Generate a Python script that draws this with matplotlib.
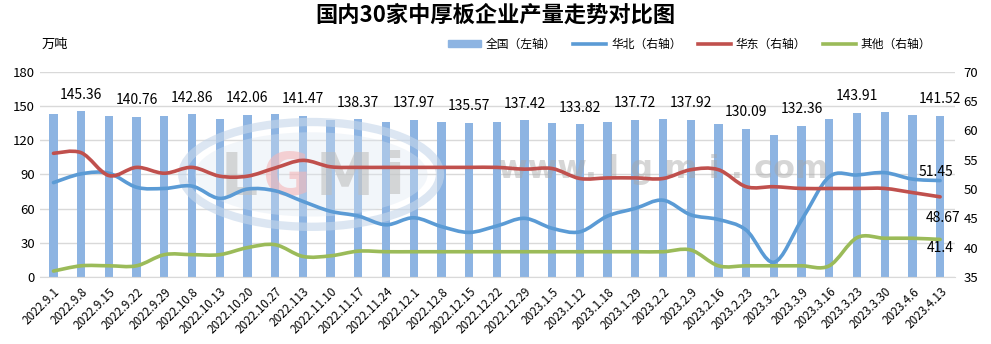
import numpy as np
import matplotlib.pyplot as plt
from matplotlib.path import Path
from matplotlib.patches import PathPatch, Ellipse

plt.rcParams['font.family'] = ['Noto Sans CJK SC', 'DejaVu Sans']

# weekly dates
dates = ['2022.9.1', '2022.9.8', '2022.9.15', '2022.9.22', '2022.9.29', '2022.10.8',
         '2022.10.13', '2022.10.20', '2022.10.27', '2022.113', '2022.11.10', '2022.11.17',
         '2022.11.24', '2022.12.1', '2022.12.8', '2022.12.15', '2022.12.22', '2022.12.29',
         '2023.1.5', '2023.1.12', '2023.1.18', '2023.1.29', '2023.2.2', '2023.2.9',
         '2023.2.16', '2023.2.23', '2023.3.2', '2023.3.9', '2023.3.16', '2023.3.23',
         '2023.3.30', '2023.4.6', '2023.4.13']

# national output (left axis, 10k tons)
national = [143.1, 145.36, 141.6, 140.76, 141.6, 142.86, 139.0, 142.06, 143.1, 141.47,
            138.0, 138.37, 136.0, 137.97, 136.0, 135.57, 136.0, 137.42, 135.2, 133.82,
            136.0, 137.72, 138.7, 137.92, 134.3, 130.09, 124.7, 132.36, 138.7, 143.91,
            144.5, 142.3, 141.52]
# bars that carry a value label
labelled = [1, 3, 5, 7, 9, 11, 13, 15, 17, 19, 21, 23, 25, 27, 29, 32]

# regional output (right axis)
north = [51.1, 52.6, 52.7, 50.3, 50.1, 50.5, 48.4, 50.0, 49.7, 47.9, 46.2, 45.4, 43.9,
         45.1, 43.6, 42.6, 43.7, 45.0, 43.3, 42.7, 45.4, 46.7, 48.1, 45.6, 44.8, 43.0,
         37.5, 44.7, 52.1, 52.4, 52.8, 51.7, 51.45]
east = [56.1, 56.2, 52.3, 53.7, 52.7, 53.7, 52.2, 52.2, 53.6, 54.9, 53.8, 53.7, 53.7,
        53.7, 53.7, 53.7, 53.7, 53.4, 53.5, 51.8, 51.9, 51.9, 51.8, 53.3, 53.3, 50.4,
        50.4, 50.1, 50.1, 50.1, 50.1, 49.4, 48.67]
other = [36.0, 36.9, 36.9, 36.9, 38.8, 38.8, 38.8, 40.0, 40.5, 38.5, 38.6, 39.4, 39.3,
         39.3, 39.3, 39.3, 39.3, 39.3, 39.3, 39.3, 39.3, 39.3, 39.3, 39.6, 36.9, 36.9,
         36.9, 36.9, 36.9, 41.7, 41.6, 41.6, 41.4]

c_bar = '#8DB4E2'
c_north = '#5B9BD5'
c_east = '#C0504D'
c_other = '#9BBB59'


def smooth_path(xs, ys):
    # cubic bezier through every point, like a spreadsheet "smoothed line"
    pts = np.column_stack([xs, ys]).astype(float)
    n = len(pts)
    verts = [pts[0]]
    codes = [Path.MOVETO]
    for i in range(n - 1):
        p0 = pts[max(i - 1, 0)]
        p1 = pts[i]
        p2 = pts[i + 1]
        p3 = pts[min(i + 2, n - 1)]
        verts += [p1 + (p2 - p0) / 6, p2 - (p3 - p1) / 6, p2]
        codes += [Path.CURVE4] * 3
    return Path(verts, codes)


x = np.arange(len(dates))
fig = plt.figure(figsize=(9.91, 3.44), dpi=100)
ax = fig.add_axes([0.040, 0.195, 0.924, 0.596])
ax2 = ax.twinx()

ax.bar(x, national, width=0.3, color=c_bar, zorder=2)
ax.set_ylim(0, 180)
ax.set_yticks(range(0, 181, 30))
ax.set_xlim(-0.5, len(dates) - 0.5 + 0.05)
ax.grid(axis='y', color='#D9D9D9', linewidth=1, zorder=0)
ax.set_axisbelow(True)
for s in ['top', 'left', 'right']:
    ax.spines[s].set_visible(False)
ax.spines['bottom'].set_color('#D9D9D9')
ax.tick_params(axis='both', length=0, labelsize=9.5)
ax.set_xticks(x)
ax.set_xticklabels(dates, rotation=45, ha='right', rotation_mode='anchor', fontsize=8.5)
ax.tick_params(axis='x', pad=6)

for i in labelled:
    ax.annotate(f'{national[i]:.2f}', (x[i], national[i]), xytext=(0, 12),
                textcoords='offset points', ha='center', va='center', fontsize=10)

# faint watermark: logo ring with letters, and the site address
ax.add_patch(Ellipse((9.3, 90), 9.3, 92, fill=False, lw=6, ec='#C5D6EA', alpha=0.6, zorder=3))
ax.add_patch(Ellipse((9.3, 90), 8.4, 74, color='#DCE6F1', alpha=0.35, zorder=3, lw=0))
for dx, ch, col in [(-2.6, 'L', '#BFBFBF'), (-0.9, 'G', '#F4B6B8'), (1.2, 'M', '#BFBFBF'),
                    (3.0, 'i', '#BFBFBF')]:
    ax.text(9.3 + dx, 86, ch, ha='center', va='center', fontsize=42, fontweight='bold',
            color=col, alpha=0.6, zorder=3, family='DejaVu Sans')
ax.text(22.0, 94, 'www. l g m i . com', ha='center', va='center', fontsize=23,
        fontweight='bold', color='#A6A6A6', alpha=0.45, zorder=3, family='DejaVu Sans')

ax2.set_ylim(35, 70)
ax2.set_yticks(range(35, 71, 5))
for s in ax2.spines.values():
    s.set_visible(False)
ax2.tick_params(axis='y', length=0, labelsize=9.5, pad=6)

for vals, col in [(north, c_north), (east, c_east), (other, c_other)]:
    ax2.add_patch(PathPatch(smooth_path(x, vals), fill=False, ec=col, lw=2.6,
                            capstyle='round', joinstyle='round', zorder=4))

ax2.annotate(f'{north[-1]}', (x[-1], north[-1]), xytext=(-3, 6), textcoords='offset points',
             ha='center', va='center', fontsize=10)
ax2.annotate(f'{east[-1]}', (x[-1], east[-1]), xytext=(2, -15), textcoords='offset points',
             ha='center', va='center', fontsize=10)
ax2.annotate(f'{other[-1]}', (x[-1], other[-1]), xytext=(0, -6), textcoords='offset points',
             ha='center', va='center', fontsize=10)

# legend
h_bar = plt.Rectangle((0, 0), 1, 1, color=c_bar)
h_n = plt.Line2D([], [], color=c_north, lw=2.6)
h_e = plt.Line2D([], [], color=c_east, lw=2.6)
h_o = plt.Line2D([], [], color=c_other, lw=2.6)
fig.legend([h_bar, h_n, h_e, h_o], ['全国（左轴）', '华北（右轴）', '华东（右轴）', '其他（右轴）'],
           loc='center', bbox_to_anchor=(0.696, 0.872), ncol=4, frameon=False, fontsize=8.5,
           handlelength=2.8, handleheight=0.6, columnspacing=1.4, handletextpad=0.4)

fig.text(0.042, 0.872, '万吨', fontsize=9.5, va='center')
fig.text(0.5, 0.955, '国内30家中厚板企业产量走势对比图', ha='center', va='center',
         fontsize=16, fontweight='bold')

fig.savefig('out.png', dpi=100)
